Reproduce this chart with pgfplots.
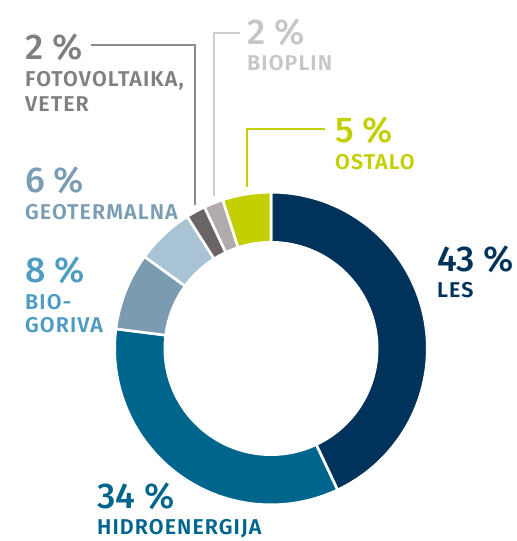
\documentclass[border=0pt]{standalone}
\usepackage{pgfplots}
\pgfplotsset{compat=1.18}
\usepackage{pgfplotstable}
\usepackage{fontspec}
\setmainfont{Fira Sans}[UprightFont=* Medium, BoldFont=* SemiBold]
\newfontfamily\labfont{Fira Sans SemiBold}[LetterSpace=5]
\definecolor{cLes}{HTML}{00335B}
\definecolor{cHidro}{HTML}{00658C}
\definecolor{cBio}{HTML}{7B9BB0}
\definecolor{cGeo}{HTML}{A8C3D3}
\definecolor{cFV}{HTML}{6B6464}
\definecolor{cBioplin}{HTML}{B1ABAB}
\definecolor{cOst}{HTML}{C3CF00}
\definecolor{tFV}{HTML}{808080}
\definecolor{lFV}{HTML}{8C8C8C}
\definecolor{tBioplin}{HTML}{C6C6C6}
\definecolor{lBioplin}{HTML}{CFCFCF}
\definecolor{tGeo}{HTML}{7B9DB3}
\definecolor{tBio}{HTML}{4E9CC2}
\pgfplotstableread[col sep=comma]{
name,value,color
Les,43,cLes
Hidroenergija,34,cHidro
Biogoriva,8,cBio
Geotermalna,6,cGeo
Fotovoltaika,2,cFV
Bioplin,2,cBioplin
Ostalo,5,cOst
}\datatable
\newcommand{\num}[1]{{\fontsize{36}{36}\selectfont #1}}
\newcommand{\lab}[1]{{\labfont\fontsize{21.5}{24}\selectfont #1}}
\begin{document}
\begin{tikzpicture}
\begin{axis}[
  scale only axis, width=517bp, height=541bp,
  xmin=0, xmax=517, ymin=0, ymax=541,
  hide axis, clip=false,
]
\path[draw=none] (axis cs:0,0) rectangle (axis cs:517,541);
\def\angstart{90}
\pgfplotsforeachungrouped \i in {0,...,6} {
  \pgfplotstablegetelem{\i}{value}\of\datatable \let\val=\pgfplotsretval
  \pgfplotstablegetelem{\i}{color}\of\datatable \let\col=\pgfplotsretval
  \pgfmathsetmacro\angend{\angstart-3.6*\val}
  \edef\temp{\noexpand\addplot[fill=\col, draw=white, line width=2.6bp, line join=miter, domain=\angend:\angstart, samples=80] ({271+156.3*cos(x)},{192.5+156.3*sin(x)}) -- (axis cs:271,192.5) -- cycle;}
  \temp
  \global\let\angstart=\angend
}
\addplot[fill=white, draw=none, domain=0:360, samples=160] ({271+107.5*cos(x)},{192.5+107.5*sin(x)}) -- cycle;
% leader lines
\addplot[lFV, line width=1.8bp] coordinates {(91,496) (195,496) (195,336)};
\addplot[lBioplin, line width=1.8bp] coordinates {(240,508) (214,508) (214,345)};
\addplot[cOst, line width=1.8bp] coordinates {(325,412) (247,412) (247,354)};
% labels
\node[anchor=base west, text=tFV, inner sep=0pt] at (axis cs:25,481) {\num{2 \%}};
\node[anchor=base west, text=tFV, inner sep=0pt] at (axis cs:25,454) {\lab{FOTOVOLTAIKA,}};
\node[anchor=base west, text=tFV, inner sep=0pt] at (axis cs:25,429) {\lab{VETER}};
\node[anchor=base west, text=tBioplin, inner sep=0pt] at (axis cs:247,496) {\num{2 \%}};
\node[anchor=base west, text=tBioplin, inner sep=0pt] at (axis cs:247,470) {\lab{BIOPLIN}};
\node[anchor=base west, text=cOst, inner sep=0pt] at (axis cs:335,398) {\num{5 \%}};
\node[anchor=base west, text=cOst, inner sep=0pt] at (axis cs:335,371) {\lab{OSTALO}};
\node[anchor=base west, text=cLes, inner sep=0pt] at (axis cs:437,269) {\num{43 \%}};
\node[anchor=base west, text=cLes, inner sep=0pt] at (axis cs:437,243) {\lab{LES}};
\node[anchor=base west, text=tGeo, inner sep=0pt] at (axis cs:25,348) {\num{6 \%}};
\node[anchor=base west, text=tGeo, inner sep=0pt] at (axis cs:25,321) {\lab{GEOTERMALNA}};
\node[anchor=base west, text=tBio, inner sep=0pt] at (axis cs:25,258) {\num{8 \%}};
\node[anchor=base west, text=tBio, inner sep=0pt] at (axis cs:25,231) {\lab{BIO-}};
\node[anchor=base west, text=tBio, inner sep=0pt] at (axis cs:25,208) {\lab{GORIVA}};
\node[anchor=base west, text=cHidro, inner sep=0pt] at (axis cs:97,32) {\num{34 \%}};
\node[anchor=base west, text=cHidro, inner sep=0pt] at (axis cs:97,7) {\lab{HIDROENERGIJA}};
\end{axis}
\end{tikzpicture}
\end{document}
